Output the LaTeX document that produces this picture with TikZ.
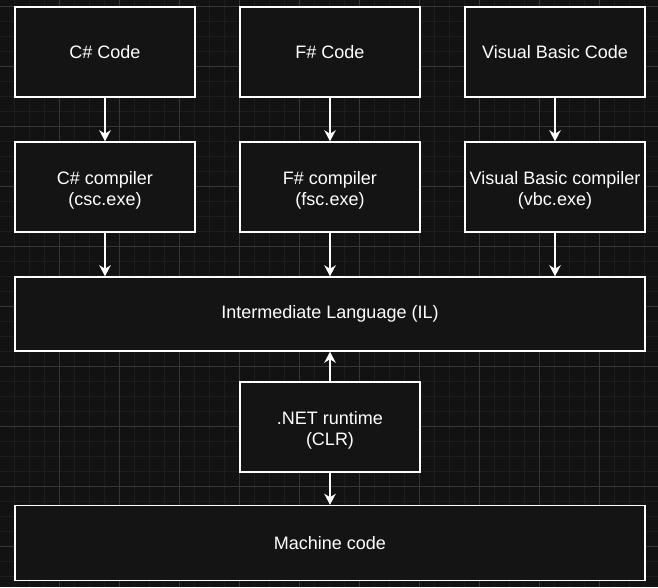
\documentclass[tikz,border=0pt]{standalone}
\usepackage{fontspec}
\setmainfont{Liberation Sans}
\usetikzlibrary{arrows.meta}
\definecolor{bgc}{HTML}{121212}
\definecolor{boxc}{HTML}{141414}
\definecolor{minorc}{HTML}{1D1D1D}
\definecolor{majorc}{HTML}{363636}
\newcommand\toprule{\rule{0pt}{19.5pt}}
\tikzset{
  box/.style={draw=white, line width=1.5pt, fill=boxc, text=white, align=center,
    inner sep=0pt, minimum width=180pt, minimum height=90pt,
    font=\fontsize{18}{21.5}\selectfont},
  wide/.style={box, minimum width=630pt},
  conn/.style={draw=white, line width=1.5pt,
    -{Stealth[length=11pt, width=11.5pt, inset=3.5pt]}}
}
\begin{document}
\begin{tikzpicture}[x=1pt, y=-1pt]
\useasboundingbox (0,0) rectangle (658,587);
\fill[bgc] (0,0) rectangle (658,587);
% minor grid
\foreach \x in {14,29,...,644} \draw[minorc, line width=1pt] (\x,0) -- (\x,587);
\foreach \y in {6,21,...,586} \draw[minorc, line width=1pt] (0,\y) -- (658,\y);
% major grid
\foreach \x in {59,119,...,599} \draw[majorc, line width=1pt] (\x,0) -- (\x,587);
\foreach \y in {6,66,...,546} \draw[majorc, line width=1pt] (0,\y) -- (658,\y);

\node[box] (csc) at (105,52) {C\# Code};
\node[box] (fsc) at (330,52) {F\# Code};
\node[box] (vbc) at (555,52) {Visual Basic Code};
\node[box] (cscc) at (105,187) {\toprule C\# compiler\\(csc.exe)};
\node[box] (fscc) at (330,187) {\toprule F\# compiler\\(fsc.exe)};
\node[box] (vbcc) at (555,187) {\toprule Visual Basic compiler\\(vbc.exe)};
\node[wide, minimum height=74pt] (il) at (330,314) {Intermediate Language (IL)};
\node[box] (clr) at (330,427) {\toprule .NET runtime\\(CLR)};
\node[wide, minimum height=75pt] (mc) at (330,543) {Machine code};

\draw[conn] (csc) -- (cscc);
\draw[conn] (fsc) -- (fscc);
\draw[conn] (vbc) -- (vbcc);
\draw[conn] (cscc) -- (cscc |- il.north);
\draw[conn] (fscc) -- (fscc |- il.north);
\draw[conn] (vbcc) -- (vbcc |- il.north);
\draw[conn] (clr) -- (il);
\draw[conn] (clr) -- (mc);
\end{tikzpicture}
\end{document}
